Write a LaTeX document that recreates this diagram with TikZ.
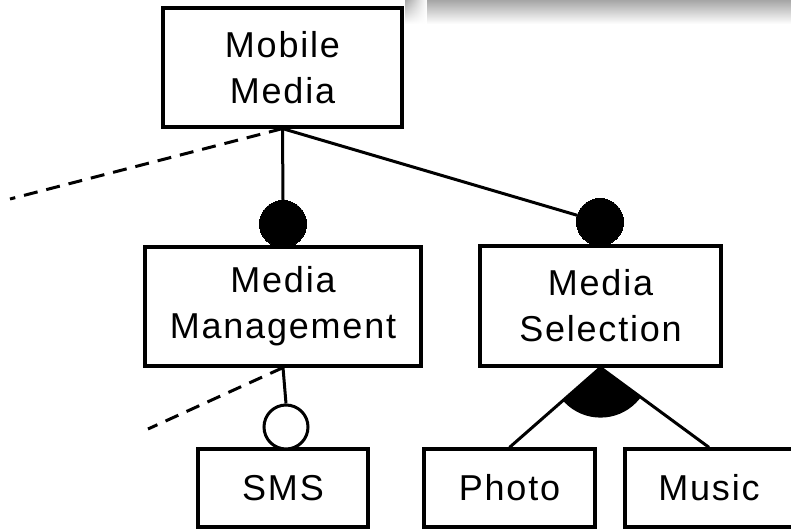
\documentclass[tikz,border=0pt]{standalone}
\usepackage{fontspec}
\setmainfont{Liberation Sans}
\newfontfamily\featfont[LetterSpace=5]{Liberation Sans}
\usetikzlibrary{fadings}
\begin{document}
\begin{tikzpicture}[x=1pt,y=-1pt,
  feat/.style={draw=black, line width=3.2pt, fill=white, align=center, inner sep=0pt,
    font=\featfont\fontsize{36}{46}\selectfont},
  mand/.style={circle, fill=black, draw=black, line width=0pt, minimum size=47pt, inner sep=0pt},
  opt/.style={circle, fill=white, draw=black, line width=3pt, minimum size=44pt, inner sep=0pt},
  conn/.style={line width=3pt},
  dashline/.style={line width=3pt, dash pattern=on 14pt off 9pt}]
\useasboundingbox (0,0) rectangle (791,529);
\clip (0,0) rectangle (791,529);
% background shadow at top right
\shade[top color=black!35, bottom color=white] (427,0) rectangle (791,24);
\shade[top color=black!35, bottom color=white, path fading=east] (405,0) rectangle (427,24);
% features
\node[feat, minimum width=239pt, minimum height=119pt] (mobile) at (282.5,67.5) {Mobile\\Media};
\node[feat, minimum width=276pt, minimum height=119pt] (mm) at (283,306.5) {Media\\Management};
\node[feat, minimum width=241pt, minimum height=120pt] (ms) at (600.5,306) {Media\\Selection};
\node[feat, minimum width=170pt, minimum height=78pt] (sms) at (283,488) {SMS};
\node[feat, minimum width=171pt, minimum height=78pt] (photo) at (509.5,488) {Photo};
\node[feat, minimum width=168pt, minimum height=78pt] (music) at (709,488) {Music};
% markers
\node[mand] (c1) at (283,224) {};
\node[mand] (c2) at (600,222) {};
\node[opt] (c3) at (286,427) {};
% free ends
\coordinate (d1) at (10,199);
\coordinate (d2) at (148,429);
% connectors
\draw[conn] (mobile.south) -- (c1.north);
\draw[conn] (mobile.south) -- (c2);
\draw[dashline] (mobile.south) -- (d1);
\draw[conn] (mm.south) -- (c3.north);
\draw[dashline] (mm.south) -- (d2);
\draw[conn] (ms.south) -- (photo.north);
\draw[conn] (ms.south) -- (music.north);
\begin{scope}
  \clip (ms.south) -- (photo.north) -- (music.north) -- cycle;
  \fill (ms.south) circle[radius=50pt];
\end{scope}
\end{tikzpicture}
\end{document}
